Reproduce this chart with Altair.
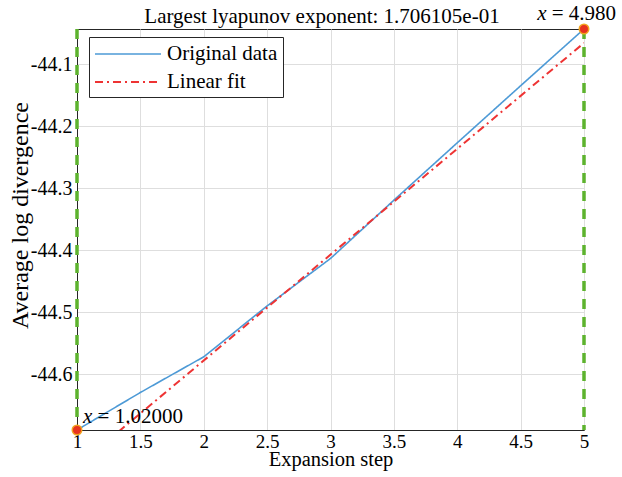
import altair as alt
import pandas as pd

# ---- data ----
orig_x = [1.0, 1.5, 2.0, 2.5, 3.0, 3.5, 4.0, 4.5, 5.0]
orig_y = [-44.690, -44.6295, -44.572, -44.490, -44.4135, -44.3195, -44.227, -44.135, -44.0435]

fit_x = [1.0, 5.0]
fit_y = [-44.7486, -44.066]

range_x = [1.0, 5.0]

tip_x = [1.0, 5.0]
tip_y = [-44.690, -44.0435]
tip_text = ["= 1.02000", "= 4.980"]

title_text = ["Largest lyapunov exponent: 1.706105e-01"]

series_names = ["Original data", "Linear fit"]
x_ticks = [1, 1.5, 2, 2.5, 3, 3.5, 4, 4.5, 5]
y_ticks = [-44.6, -44.5, -44.4, -44.3, -44.2, -44.1]
y_domain = [-44.690, -44.0435]
x_domain = [1, 5]

FONT = "Liberation Serif"

lines_df = pd.DataFrame(
    {"x": orig_x + fit_x,
     "y": orig_y + fit_y,
     "series": [series_names[0]] * len(orig_x) + [series_names[1]] * len(fit_x)}
)
range_df = pd.DataFrame({"x": range_x})
tip_df = pd.DataFrame({"x": tip_x, "y": tip_y, "t": tip_text})
title_df = pd.DataFrame({"t": title_text})

xs = alt.Scale(domain=x_domain, nice=False, zero=False)
ys = alt.Scale(domain=y_domain, nice=False, zero=False)

x_axis = alt.Axis(values=x_ticks, title="Expansion step", grid=True, ticks=False,
                  labelPadding=2, labelFlush=False, labelFont=FONT, titleFont=FONT,
                  labelFontSize=19, titleFontSize=20.5,
                  titleY=35.5, titleBaseline="alphabetic",
                  labelExpr="format(datum.value, '~g')")
y_axis = alt.Axis(values=y_ticks, title="Average log divergence", grid=True, ticks=False,
                  labelPadding=5, labelFont=FONT, titleFont=FONT,
                  labelFontSize=20, titleFontSize=24,
                  titleX=-50, titleY=186, titleBaseline="alphabetic",
                  labelExpr="replace(format(datum.value, '.1f'), '\u2212', '-')")

rules = alt.Chart(range_df).mark_rule(
    color="#5db32e", strokeWidth=3.5, strokeDash=[10, 8]
).encode(x=alt.X("x:Q", scale=xs, axis=x_axis))

lines = alt.Chart(lines_df).mark_line(clip=True).encode(
    x=alt.X("x:Q", scale=xs, axis=x_axis),
    y=alt.Y("y:Q", scale=ys, axis=y_axis),
    color=alt.Color("series:N",
                    scale=alt.Scale(domain=series_names, range=["#4d9ad6", "#ee3333"]),
                    legend=alt.Legend(title=None)),
    strokeDash=alt.StrokeDash("series:N",
                              scale=alt.Scale(domain=series_names, range=[[1, 0], [8, 4, 2, 4]]),
                              legend=alt.Legend(title=None)),
    strokeWidth=alt.StrokeWidth("series:N",
                                scale=alt.Scale(domain=series_names, range=[1.6, 2]),
                                legend=None),
    order=alt.Order("x:Q"),
)

pts = alt.Chart(tip_df).mark_point(
    shape="circle", filled=True, size=90, color="#e8331f", stroke="#f2a41f", strokeWidth=1.5, opacity=1
).encode(x=alt.X("x:Q", scale=xs), y=alt.Y("y:Q", scale=ys))

tip_lo = tip_df.iloc[[0]]
tip_hi = tip_df.iloc[[1]]

lbl_x_lo = alt.Chart(tip_lo).mark_text(
    text="x", font=FONT, fontStyle="italic", fontSize=21, align="left", baseline="alphabetic",
    dx=6, dy=-6.6, color="black"
).encode(x=alt.X("x:Q", scale=xs), y=alt.Y("y:Q", scale=ys))
lbl_t_lo = alt.Chart(tip_lo).mark_text(
    font=FONT, fontSize=21, align="left", baseline="alphabetic", dx=20.6, dy=-6.6, color="black"
).encode(x=alt.X("x:Q", scale=xs), y=alt.Y("y:Q", scale=ys), text="t:N")

lbl_x_hi = alt.Chart(tip_hi).mark_text(
    text="x", font=FONT, fontStyle="italic", fontSize=21, align="right", baseline="alphabetic",
    dx=-37.5, dy=-8.6, color="black"
).encode(x=alt.X("x:Q", scale=xs), y=alt.Y("y:Q", scale=ys))
lbl_t_hi = alt.Chart(tip_hi).mark_text(
    font=FONT, fontSize=21, align="right", baseline="alphabetic", dx=32, dy=-8.6, color="black"
).encode(x=alt.X("x:Q", scale=xs), y=alt.Y("y:Q", scale=ys), text="t:N")

# chart title, placed as a text mark above the plot box
title_mark = alt.Chart(title_df).mark_text(
    font=FONT, fontSize=21, align="center", baseline="alphabetic", color="black"
).encode(x=alt.value(245), y=alt.value(-6.3), text="t:N")

chart = alt.layer(rules, lines, pts, lbl_x_lo, lbl_t_lo, lbl_x_hi, lbl_t_hi, title_mark).properties(
    width=507,
    height=401,
    autosize=alt.AutoSizeParams(type="none"),
    padding={"left": 77, "top": 29, "right": 38, "bottom": 47},
    background="white",
).configure(
    font=FONT
).configure_view(
    stroke="#262626", strokeWidth=1
).configure_axis(
    labelColor="black", titleColor="black", titleFontWeight="normal",
    domainColor="#262626", domainWidth=1, gridColor="#dedede", gridWidth=1,
).configure_legend(
    orient="none", legendX=12, legendY=8,
    strokeColor="#262626", fillColor="white", padding=5,
    labelFont=FONT, labelFontSize=21, labelColor="black",
    symbolType="M-1,0H5", symbolSize=484, symbolStrokeWidth=2, labelOffset=49,
    rowPadding=6, cornerRadius=0,
)

chart.save("out.html", embed_options={"renderer": "svg", "actions": False})
